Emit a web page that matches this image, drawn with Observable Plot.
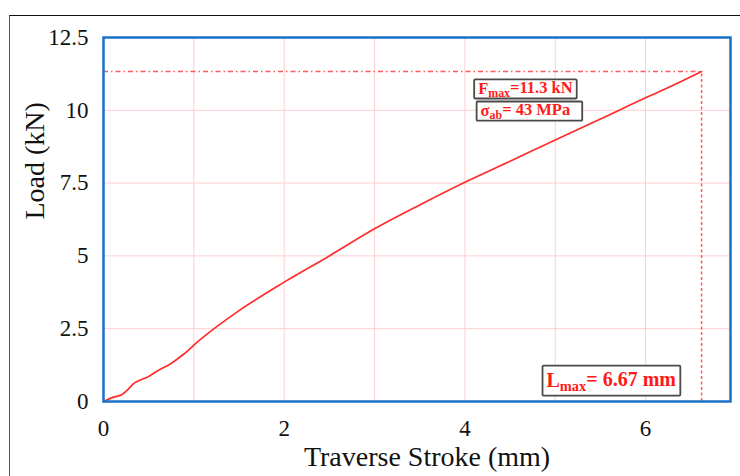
<!DOCTYPE html>
<html><head><meta charset="utf-8">
<script src="https://cdn.jsdelivr.net/npm/d3@7"></script>
<script src="https://cdn.jsdelivr.net/npm/@observablehq/plot@0.6"></script>
<style>
body{margin:0;background:#fff;}
#wrap{position:relative;width:740px;height:476px;overflow:hidden;}
#border{position:absolute;left:9px;top:15px;width:800px;height:600px;border-top:1.5px solid #111;border-left:1px solid #555;pointer-events:none;}
</style></head><body><div id="wrap"><div id="chart"></div><div id="border"></div></div>
<script>
// Curve data (Traverse stroke in mm, Load in kN)
const strokeMm = [0, 0.11, 0.2, 0.26, 0.34, 0.41, 0.5, 0.59, 0.74, 0.89, 1.05, 1.5, 2.0, 2.5, 3.0, 3.5, 4.0, 4.5, 5.0, 5.5, 6.0, 6.3, 6.62];
const loadKN   = [0, 0.15, 0.23, 0.38, 0.63, 0.74, 0.86, 1.04, 1.29, 1.63, 2.07, 3.12, 4.1, 5.0, 5.93, 6.75, 7.53, 8.25, 8.98, 9.7, 10.43, 10.85, 11.33];
const xTicks = [0, 2, 4, 6];
const yTicks = [0, 2.5, 5, 7.5, 10, 12.5];
const xGrid = [1, 2, 3, 4, 5, 6];
const yGrid = [2.5, 5, 7.5, 10];
const peakStroke = 6.62;
const peakLoad = 11.33;
// annotations
const noteMain = ["F", "σ", "L"];
const noteSub  = ["max", "ab", "max"];
const noteRest = ["=11.3 kN", "= 43 MPa", "= 6.67 mm"];
const noteX = [4.67, 4.67, 5.62];
const noteY = [10.74, 9.98, 0.72];

const data = strokeMm.map((s, i) => ({s, l: loadKN[i]}));
const notes = noteMain.map((m, i) => ({i, text: m + noteSub[i] + noteRest[i], x: noteX[i], y: noteY[i]}));

const serif = "Liberation Serif, Times New Roman, serif";
const red = "#ff2b2b";

const chart = Plot.plot({
  width: 740, height: 476,
  marginLeft: 103, marginRight: 10, marginTop: 37, marginBottom: 75,
  style: {fontFamily: serif, background: "#fff"},
  x: {domain: [0, 6.94]},
  y: {domain: [0, 12.5]},
  marks: [
    Plot.ruleX(xGrid, {stroke: "#ffcfd2", strokeWidth: 1}),
    Plot.ruleY(yGrid, {stroke: "#ffcfd2", strokeWidth: 1}),
    Plot.ruleY([peakLoad], {x1: 0, x2: peakStroke, stroke: "#ff5a5a", strokeWidth: 1.5, strokeDasharray: "5,3,1.5,3"}),
    Plot.ruleX([peakStroke], {y1: 0, y2: peakLoad, stroke: "#ff5a5a", strokeWidth: 1.5, strokeDasharray: "3,2.5"}),
    Plot.line(data, {x: "s", y: "l", stroke: red, strokeWidth: 1.7, curve: "monotone-x"}),
    Plot.frame({stroke: "#1a72c6", strokeWidth: 2.5}),
    Plot.axisX(xTicks, {tickSize: 0, tickPadding: 18, fontSize: 23, label: null, fill: "#111"}),
    Plot.axisY(yTicks, {tickSize: 0, tickPadding: 15, fontSize: 23, label: null, fill: "#111", tickFormat: d => String(d)}),
    Plot.text(["Load (kN)"], {frameAnchor: "left", dx: -68, rotate: -90, fontSize: 28, fill: "#111", fontFamily: serif}),
    Plot.text(["Traverse Stroke (mm)"], {frameAnchor: "bottom", dx: 10, dy: 45, lineAnchor: "top", fontSize: 28, fill: "#111", fontFamily: serif}),
    Plot.text(notes, {x: "x", y: "y", text: "text", fill: "#ff1a1a", fontWeight: "bold", fontSize: d => d.i === 2 ? 20 : 16.5, fontFamily: serif, className: "note"})
  ]
});
document.getElementById("chart").appendChild(chart);

// subscripts and boxes for annotations
const svg = d3.select(chart);
svg.selectAll("g.note text").each(function(d, k) {
  const t = d3.select(this);
  t.text(null);
  t.append("tspan").text(noteMain[k]);
  t.append("tspan").attr("font-size", "0.72em").attr("dy", "0.25em").text(noteSub[k]);
  t.append("tspan").attr("dy", "-0.25em").text(noteRest[k]);
  const b = this.getBBox();
  const padX = 4;
  const extra = k === 1 ? 8 : 0;
  const dyTop = k === 2 ? -2 : 1.5;
  const dh = k === 2 ? 4 : -3;
  const tr = this.getAttribute("transform");
  d3.select(this.parentNode).insert("rect", () => this)
    .attr("x", b.x - padX).attr("y", b.y + dyTop)
    .attr("width", b.width + 2 * padX + extra).attr("height", b.height + dh)
    .attr("transform", tr)
    .attr("fill", "#fff").attr("stroke", "#4a4a4a").attr("stroke-width", 1.8).attr("rx", 1);
});
</script>
</body></html>
